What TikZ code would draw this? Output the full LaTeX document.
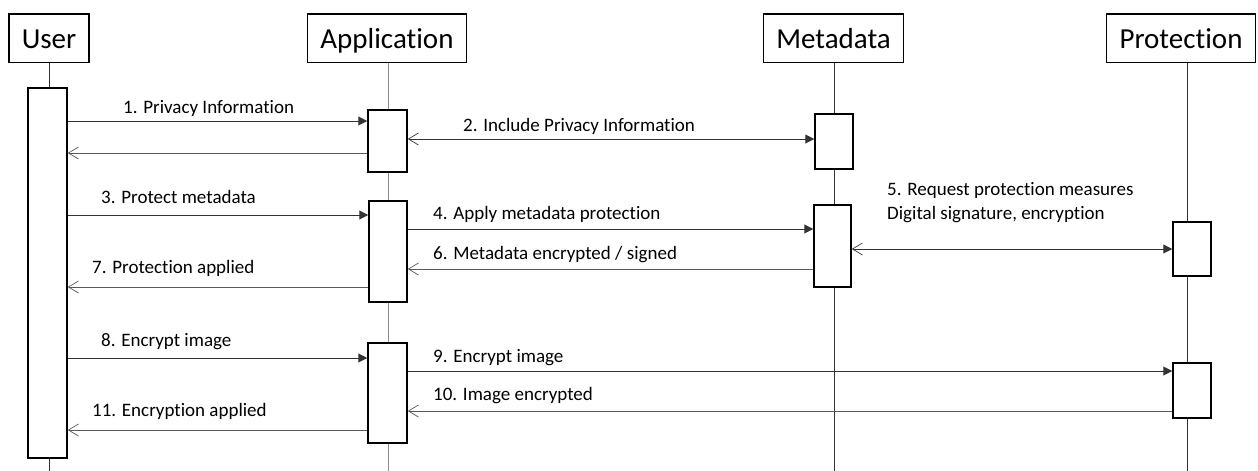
\documentclass[tikz,border=0pt]{standalone}
\usepackage{fontspec}
\setmainfont{Carlito}[Ligatures=NoCommon]
\usetikzlibrary{arrows.meta}

\begin{document}
\begin{tikzpicture}[x=1pt,y=-1pt,actor/.style={draw,line width=1.5pt,rectangle,minimum height=48.5pt,inner xsep=13pt,text height=20pt,text depth=0pt,font=\fontsize{29}{34}\selectfont},act/.style={draw,line width=1.5pt,fill=white,rectangle,minimum width=39pt,inner sep=0pt},life/.style={draw=black!80,line width=1pt},msg/.style={draw=black!80,line width=1pt},call/.style={msg,-{Triangle[length=9pt,width=9pt]}},reply/.style={msg,draw=black!65,-{Straight Barb[length=10pt,width=12pt,line width=0.7pt]}},both/.style={msg,{Straight Barb[length=10pt,width=12pt,line width=0.7pt]}-{Triangle[length=9pt,width=9pt]}},lbl/.style={anchor=base west,inner sep=0pt,align=left,font=\fontsize{19}{24}\selectfont}]
\useasboundingbox (0,0) rectangle (1258,471);
\node[actor] (user) at (49,38) {User};
        \node[actor] (app) at (387,38) {Application};
        \node[actor] (meta) at (833.5,38) {Metadata};
        \node[actor] (prot) at (1181,38) {Protection};
        \coordinate (user_end) at (49,471);
        \coordinate (app_end) at (388,471);
        \coordinate (meta_end) at (834,471);
        \coordinate (prot_end) at (1187,471);
        \draw[life] (user.south) -- (user_end);
        \draw[life,draw=black!45] (app.south -| app_end) -- (app_end);
        \draw[life] (meta.south -| meta_end) -- (meta_end);
        \draw[life] (prot.south -| prot_end) -- (prot_end);
        \node[act,minimum height=370pt] (u_1) at (47.5,273) {};
        \node[act,minimum height=62pt] (a_1) at (387.5,141) {};
        \node[act,minimum height=55pt,minimum width=38pt] (m_1) at (834,141.5) {};
        \node[act,minimum height=101pt,minimum width=38pt] (a_2) at (388,251.5) {};
        \node[act,minimum height=82pt,minimum width=37pt] (m_2) at (832.5,246) {};
        \node[act,minimum height=54pt,minimum width=38pt] (p_1) at (1192,249) {};
        \node[act,minimum height=100pt] (a_3) at (387.5,393) {};
        \node[act,minimum height=55pt,minimum width=38pt] (p_2) at (1192,390.5) {};
        \draw[call] (u_1.east |- 0,121) -- (a_1.west |- 0,121);
        \draw[reply] (a_1.west |- 0,153) -- (u_1.east |- 0,153);
        \draw[both] (a_1.east |- 0,139) -- (m_1.west |- 0,139);
        \draw[call] (u_1.east |- 0,215) -- (a_2.west |- 0,215);
        \draw[call] (a_2.east |- 0,229) -- (m_2.west |- 0,229);
        \draw[both] (m_2.east |- 0,249) -- (p_1.west |- 0,249);
        \draw[reply] (m_2.west |- 0,269) -- (a_2.east |- 0,269);
        \draw[reply] (a_2.west |- 0,287) -- (u_1.east |- 0,287);
        \draw[call] (u_1.east |- 0,358) -- (a_3.west |- 0,358);
        \draw[call] (a_3.east |- 0,371) -- (p_2.west |- 0,371);
        \draw[reply] (p_2.west |- 0,411) -- (a_3.east |- 0,411);
        \draw[reply] (a_3.west |- 0,430) -- (u_1.east |- 0,430);
        \node[lbl] (l_1) at (123,113) {1. Privacy Information};
        \node[lbl] (l_2) at (463,131) {2. Include Privacy Information};
        \node[lbl] (l_3) at (101,203) {3. Protect metadata};
        \node[lbl] (l_4) at (433,219) {4. Apply metadata protection};
        \node[lbl] (l_5) at (887,219) {5. Request protection measures\\Digital signature, encryption};
        \node[lbl] (l_6) at (433,259) {6. Metadata encrypted / signed};
        \node[lbl] (l_7) at (92,273) {7. Protection applied};
        \node[lbl] (l_8) at (101,346) {8. Encrypt image};
        \node[lbl] (l_9) at (433,362) {9. Encrypt image};
        \node[lbl] (l_10) at (433,400) {10. Image encrypted};
        \node[lbl] (l_11) at (92,416) {11. Encryption applied};
\end{tikzpicture}
\end{document}
